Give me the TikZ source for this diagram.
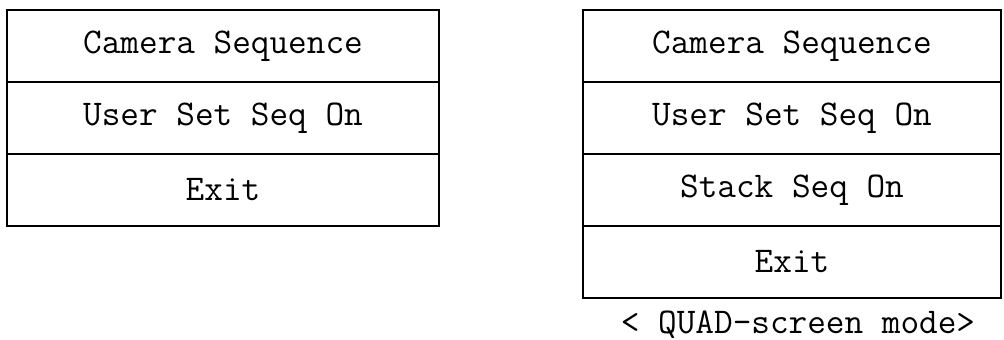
\documentclass[tikz,border=0pt]{standalone}
\usepackage{fontspec}
\usetikzlibrary{positioning}
\tikzset{
  menurow/.style = {
    rectangle,
    draw,
    line width=1.1pt,
    align=center,
    outer sep=0pt,
    font=\ttfamily\fontsize{20.6}{24}\selectfont,
    minimum height=1.44cm
  },
  leftrow/.style = {
    menurow,
    minimum width=8.64cm
  },
  rightrow/.style = {
    menurow,
    minimum width=8.36cm
  },
  caption/.style = {
    font=\ttfamily\fontsize{20.6}{24}\selectfont
  }
}
\begin{document}
\begin{tikzpicture}[x=0.02cm,y=-0.02cm,node distance=0pt]
    \useasboundingbox (0,0) rectangle (1004,340);
    % single-screen menu
    \node[leftrow] (lcam) at (223,46) {Camera Sequence};
    \node[leftrow, below=of lcam] (luser) {User Set Seq On};
    \node[leftrow, below=of luser] (lexit) {Exit};
    % quad-screen menu
    \node[rightrow] (rcam) at (792,46) {Camera Sequence};
    \node[rightrow, below=of rcam] (ruser) {User Set Seq On};
    \node[rightrow, below=of ruser] (rstack) {Stack Seq On};
    \node[rightrow, below=of rstack] (rexit) {Exit};
    \node[caption] (quad) at (798,325) {< QUAD-screen mode>};
  \end{tikzpicture}
\end{document}
